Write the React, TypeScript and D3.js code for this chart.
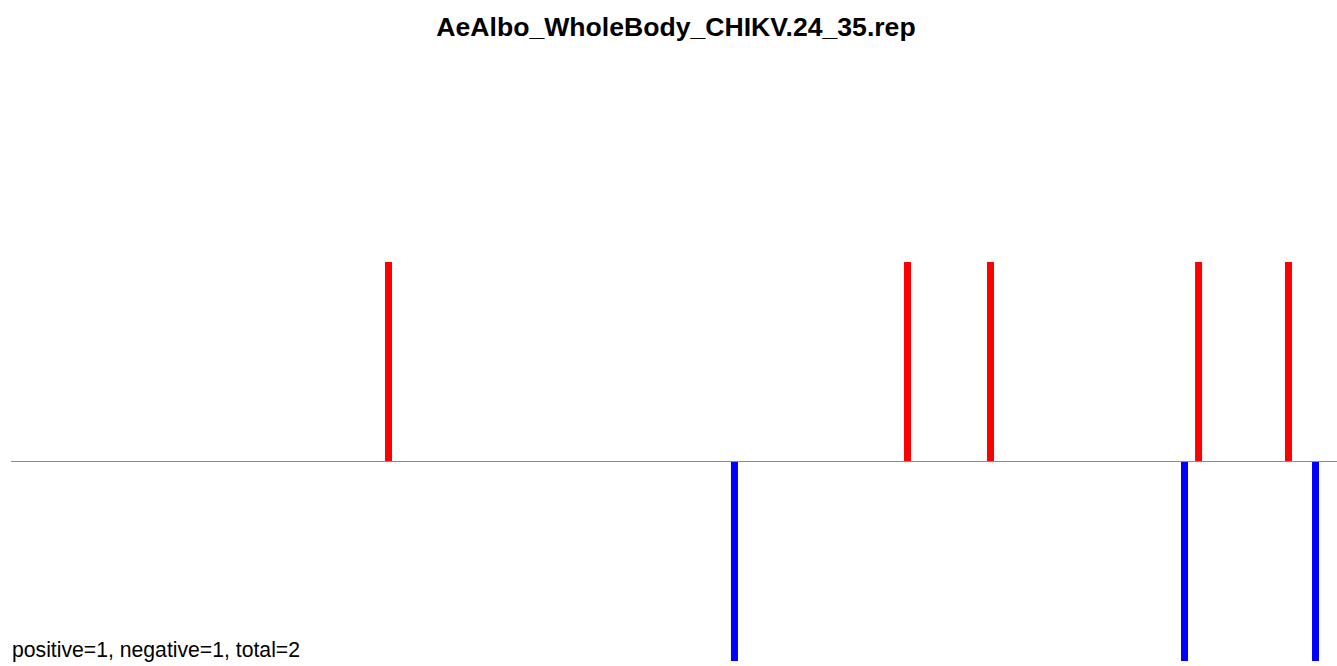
import React from "react";
import * as d3 from "d3";

const title = "AeAlbo_WholeBody_CHIKV.24_35.rep";
const footer = "positive=1, negative=1, total=2";
const positivePositions = [28.47, 67.61, 73.87, 89.56, 96.34];
const negativePositions = [54.56, 88.5, 98.38];
const positiveValue = 1;
const negativeValue = -1;

const W = 1337;
const H = 666;

export default function App() {
  const x = d3.scaleLinear().domain([0, 100]).range([11, 1337]);
  const y = d3.scaleLinear().domain([-1, 1]).range([661, 262]);
  const barW = 7;
  return (
    <svg
      width={W}
      height={H}
      style={{ position: "absolute", left: 0, top: 0, background: "#fff" }}
      fontFamily="'Liberation Sans', Arial, sans-serif"
    >
      <text x={676} y={36} textAnchor="middle" fontWeight="bold" fontSize={26.6} fill="#000">
        {title}
      </text>
      {positivePositions.map((p, i) => (
        <rect
          key={"p" + i}
          x={x(p) - barW / 2}
          y={y(positiveValue)}
          width={barW}
          height={y(0) - y(positiveValue)}
          fill="#FF0000"
        />
      ))}
      {negativePositions.map((p, i) => (
        <rect
          key={"n" + i}
          x={x(p) - barW / 2}
          y={y(0)}
          width={barW}
          height={y(negativeValue) - y(0)}
          fill="#0000FF"
        />
      ))}
      <line x1={x(0)} x2={x(100)} y1={y(0)} y2={y(0)} stroke="#8c8c8c" strokeWidth={1.2} />
      <text x={12} y={657} fontSize={21.2} fill="#000">
        {footer}
      </text>
    </svg>
  );
}
